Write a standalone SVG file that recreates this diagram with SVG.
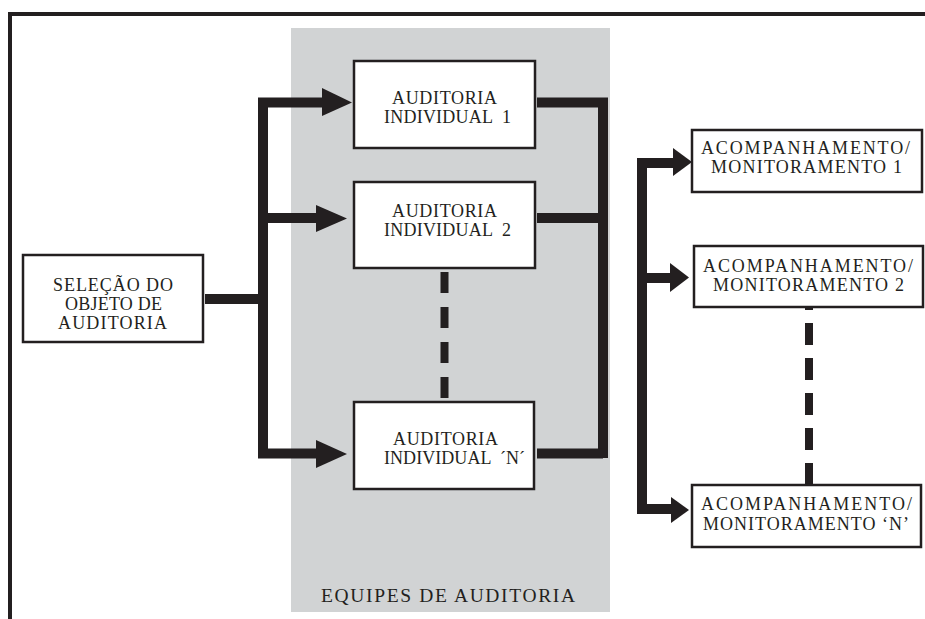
<svg xmlns="http://www.w3.org/2000/svg" width="925" height="619" viewBox="0 0 925 619">
<style>
.box{fill:#fff;stroke:#231f20;stroke-width:2.5}
.t{font-family:"Liberation Serif","Times New Roman",serif;font-size:18px;fill:#231f20;white-space:pre}
.conn{fill:none;stroke:#231f20;stroke-width:10;stroke-linejoin:miter;stroke-linecap:butt}
.head{fill:#231f20}
.dash{stroke:#231f20;stroke-width:8;fill:none}
</style>
<rect width="925" height="619" fill="#fff"/>
<g id="frame">
<path d="M10 619 V14 H925" fill="none" stroke="#231f20" stroke-width="4"/>
</g>
<g id="equipes">
<rect x="291" y="28" width="319" height="584" fill="#d1d3d4"/>
<text class="t" x="321" y="602" style="font-size:19.5px" textLength="254">EQUIPES DE AUDITORIA</text>
</g>
<g id="connectors">
<path class="conn" d="M205 299 H263"/>
<path class="conn" d="M323 102.5 H263 V453.5 H317"/>
<path class="conn" d="M263 218 H317"/>
<polygon class="head" points="322,88 352,102.5 322,116"/>
<polygon class="head" points="316,205 347,218.5 316,232"/>
<polygon class="head" points="316,440 347,454 316,468"/>
<path class="conn" d="M537 102.5 H603 V458"/>
<path class="conn" d="M537 218 H603"/>
<path class="conn" d="M537 453.5 H603"/>
<path class="conn" d="M674 163 H642 V509 H672"/>
<path class="conn" d="M642 278 H671"/>
<polygon class="head" points="673,148 692,162 673,176"/>
<polygon class="head" points="670,263 689,277.5 670,292"/>
<polygon class="head" points="671,497 689,510 671,523"/>
<line class="dash" x1="444.5" y1="272" x2="444.5" y2="402" stroke-dasharray="21 14"/>
<line class="dash" x1="809" y1="307" x2="809" y2="485" stroke-dasharray="22 13" stroke-dashoffset="19"/>
</g>
<g id="selecao">
<rect class="box" x="23" y="255" width="180" height="87"/>
<text class="t" x="53" y="291" textLength="120">SELEÇÃO DO</text>
<text class="t" x="65" y="310" textLength="97">OBJETO DE</text>
<text class="t" x="58" y="329" textLength="109">AUDITORIA</text>
</g>
<g id="auditoria1">
<rect class="box" x="354" y="61" width="181" height="87"/>
<text class="t" x="392" y="104" textLength="105">AUDITORIA</text>
<text class="t" x="384" y="123" textLength="127">INDIVIDUAL  1</text>
</g>
<g id="auditoria2">
<rect class="box" x="354" y="182" width="181" height="86"/>
<text class="t" x="392" y="217" textLength="105">AUDITORIA</text>
<text class="t" x="384" y="236" textLength="127">INDIVIDUAL  2</text>
</g>
<g id="auditoriaN">
<rect class="box" x="354" y="402" width="180" height="87"/>
<text class="t" x="393" y="445" textLength="105">AUDITORIA</text>
<text class="t" x="384" y="464" textLength="141">INDIVIDUAL  ´N´</text>
</g>
<g id="acompanhamento1">
<rect class="box" x="692" y="130" width="230" height="62"/>
<text class="t" x="701" y="154" textLength="209">ACOMPANHAMENTO/</text>
<text class="t" x="711" y="173" textLength="191">MONITORAMENTO 1</text>
</g>
<g id="acompanhamento2">
<rect class="box" x="694" y="246" width="229" height="61"/>
<text class="t" x="703" y="272" textLength="210">ACOMPANHAMENTO/</text>
<text class="t" x="713" y="291" textLength="191">MONITORAMENTO 2</text>
</g>
<g id="acompanhamentoN">
<rect class="box" x="692" y="485" width="229" height="62"/>
<text class="t" x="701" y="510" textLength="211">ACOMPANHAMENTO/</text>
<text class="t" x="703" y="530" textLength="206">MONITORAMENTO ‘N’</text>
</g>
</svg>
